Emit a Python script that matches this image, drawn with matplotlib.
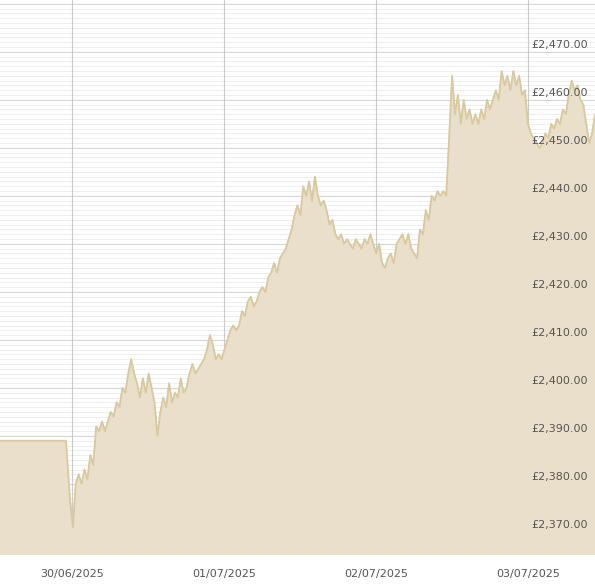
import matplotlib
matplotlib.use("Agg")
import matplotlib.pyplot as plt
from matplotlib.ticker import MultipleLocator
import numpy as np

# values in GBP; first two are the flat pre-open period, the rest evenly spaced in time
values = [2389, 2389, 2386, 2377, 2371, 2380, 2382, 2380, 2383, 2381, 2386, 2384, 2392, 2391, 2393, 2391, 2393, 2395, 2394, 2397, 2396, 2400, 2399, 2403, 2406, 2403, 2401, 2398, 2402, 2399, 2403, 2400, 2397, 2390, 2395, 2398, 2396, 2401, 2397, 2399, 2398, 2402, 2399, 2400, 2403, 2405, 2403, 2404, 2405, 2406, 2408, 2411, 2409, 2406, 2407, 2406, 2408, 2410, 2412, 2413, 2412, 2413, 2416, 2415, 2418, 2419, 2417, 2418, 2420, 2421, 2420, 2423, 2424, 2426, 2424, 2427, 2428, 2429, 2431, 2433, 2436, 2438, 2436, 2442, 2440, 2443, 2439, 2444, 2440, 2438, 2439, 2437, 2434, 2435, 2432, 2431, 2432, 2430, 2431, 2430, 2429, 2431, 2430, 2429, 2431, 2430, 2432, 2430, 2428, 2430, 2426, 2425, 2427, 2428, 2426, 2430, 2431, 2432, 2430, 2432, 2429, 2428, 2427, 2433, 2432, 2437, 2435, 2440, 2439, 2441, 2440, 2441, 2440, 2452, 2465, 2457, 2461, 2455, 2460, 2456, 2458, 2455, 2457, 2455, 2458, 2456, 2460, 2458, 2460, 2462, 2460, 2466, 2463, 2465, 2462, 2466, 2463, 2465, 2461, 2462, 2455, 2453, 2452, 2451, 2450, 2451, 2453, 2452, 2455, 2454, 2456, 2455, 2458, 2457, 2461, 2464, 2462, 2463, 2460, 2459, 2455, 2451, 2453, 2457]
tick_pos = [0, 1, 2, 3]
tick_labels = ["30/06/2025", "01/07/2025", "02/07/2025", "03/07/2025"]

# time in days relative to 30/06/2025
t_start, t_flat_end, t_open, t_end = -72/152, -6/152, -5/152, 523/152
t = np.concatenate([[t_start, t_flat_end], np.linspace(t_open, t_end, len(values) - 2)])
v = np.array(values, dtype=float)

fig = plt.figure(figsize=(5.95, 5.86), dpi=100)
ax = fig.add_axes([0, 31/586, 1, 1 - 31/586])
ax.set_facecolor("white")
ymin, ymax = 2365.2, 2480.8
ax.fill_between(t, v, ymin, color="#e9dfca", zorder=2)
ax.plot(t, v, color="#d8c99f", lw=1.3, zorder=3)
ax.set_xlim(t_start, t_end)
ax.set_ylim(ymin, ymax)
ax.yaxis.set_major_locator(MultipleLocator(10))
ax.yaxis.set_minor_locator(MultipleLocator(1))
ax.grid(which="minor", axis="y", color="#bbbbbb", lw=0.5, alpha=0.35, zorder=4)
ax.grid(which="major", axis="y", color="#bbbbbb", lw=0.8, alpha=0.6, zorder=4)
ax.set_xticks(tick_pos)
ax.set_xticklabels(tick_labels, color="#555555", fontsize=8)
for x in tick_pos:
    ax.axvline(x, color="#cccccc", lw=0.8, zorder=1)
ax.tick_params(axis="x", length=0, pad=10)
ax.tick_params(axis="y", which="both", length=0, labelleft=False)
for s in ax.spines.values():
    s.set_visible(False)
for y in range(2370, 2471, 10):
    ax.annotate(f"£{y:,.2f}", xy=(1, y), xycoords=("axes fraction", "data"),
                xytext=(-5, 5), textcoords="offset points", ha="right", va="center",
                fontsize=8, color="#555555", zorder=6)
fig.savefig("out.png", dpi=100)
